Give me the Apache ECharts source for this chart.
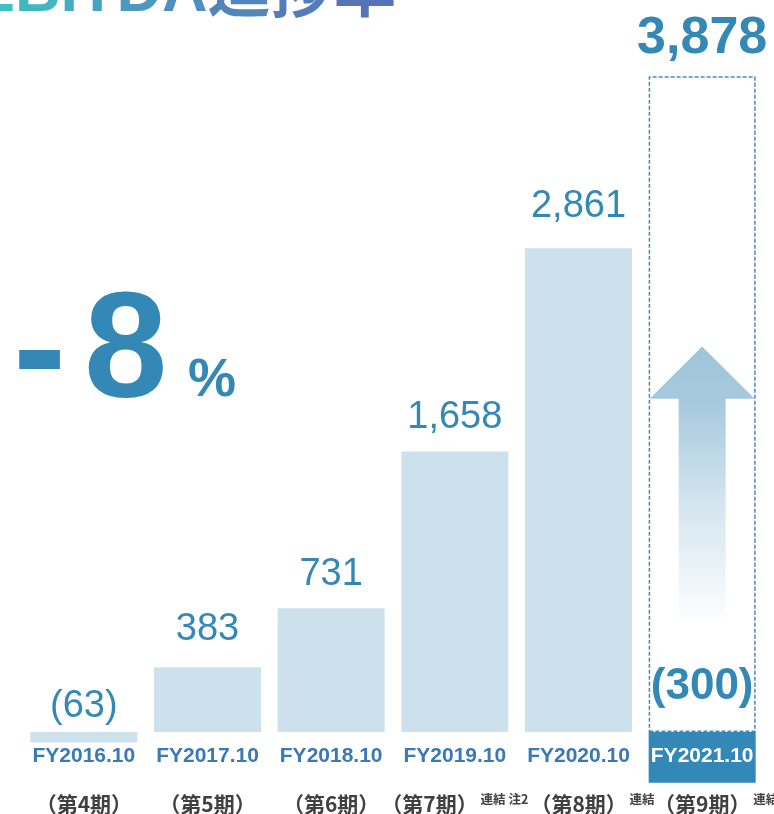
<!DOCTYPE html>
<html>
<head>
<meta charset="utf-8">
<script src="https://cdn.jsdelivr.net/npm/echarts@6/dist/echarts.min.js"></script>
<style>
  html, body { margin: 0; padding: 0; background: #fff; }
  #chart { width: 774px; height: 814px; }
</style>
</head>
<body>
<div id="chart"></div>
<script>
const categories = ["FY2016.10", "FY2017.10", "FY2018.10", "FY2019.10", "FY2020.10", "FY2021.10"];
const periods = ["第4期", "第5期", "第6期", "第7期", "第8期", "第9期"];
const periodNotes = ["", "", "", "連結 注2", "連結", "連結"];
// EBITDA, million yen (negative shown in brackets)
const actual = [-63, 383, 731, 1658, 2861, -300];
const forecast = [null, null, null, null, null, 3878];
// arrow on the forecast column: [category, bottom, neck, tip]
const arrow = [[5, 630, 1970, 2280]];
const title = "EBITDA進捗率";

const periodPad = [0, 0, 0, 0, 26, 30];
const blue = "#3488b6";
const latin = "'Liberation Sans', Arial, 'Noto Sans CJK JP', sans-serif";
const cjk = "'Noto Sans CJK JP', 'Liberation Sans', sans-serif";

const rate = Math.round(actual[5] / forecast[5] * 100);

function fmt(v) {
  const s = String(Math.abs(v)).replace(/\B(?=(\d{3})+(?!\d))/g, ",");
  return v < 0 ? "(" + s + ")" : s;
}

// title drawn one glyph per rich token so it can fade from teal to blue
const titleRich = {};
const titleText = title.split("").map((ch, i, arr) => {
  titleRich["t" + i] = {
    fill: echarts.color.lerp(i / (arr.length - 1), ["#3fc0c4", "#5872b8"]),
    fontFamily: latin,
    fontSize: 63,
    fontWeight: "bold",
  };
  return "{t" + i + "|" + ch + "}";
}).join("");

const chart = echarts.init(document.getElementById("chart"));

const option = {
  animation: false,
  grid: { left: 22, right: 10, top: 55.6, height: 727.1, outerBoundsMode: "none", containLabel: false },
  xAxis: [
    {
      // fiscal-year labels sit just under the zero line, above the negative bar
      type: "category",
      data: categories,
      position: "bottom",
      z: 10,
      axisLine: { show: false, onZero: false },
      axisTick: { show: false },
      axisLabel: {
        interval: 0,
        margin: -37,
        formatter: (v, i) => (i === 5 ? "{w|" + v + "}" : "{b|" + v + "}"),
        rich: {
          b: { fontFamily: latin, fontSize: 21, fontWeight: "bold", color: "#3a78b6" },
          w: { fontFamily: latin, fontSize: 21, fontWeight: "bold", color: "#ffffff" },
        },
      },
    },
    {
      type: "category",
      data: periods,
      position: "bottom",
      axisLine: { show: false, onZero: false },
      axisTick: { show: false },
      axisLabel: {
        interval: 0,
        margin: 10,
        formatter: (v, i) => {
          let s = "";
          if (periodPad[i]) s += "{sp| }";
          s += "{p|（" + v + "）}";
          if (periodNotes[i]) s += "{n| " + periodNotes[i] + "}";
          return s;
        },
        rich: {
          p: { fontFamily: cjk, fontSize: 21, fontWeight: "bold", color: "#404040", lineHeight: 23 },
          n: { fontFamily: cjk, fontSize: 12.5, fontWeight: "bold", color: "#404040", verticalAlign: "top" },
          sp: { width: 28, fontSize: 21 },
        },
      },
    },
  ],
  yAxis: {
    type: "value",
    min: -300,
    max: 4000,
    show: false,
    splitLine: { show: false },
  },
  series: [
    {
      name: "予想",
      type: "bar",
      data: forecast,
      barWidth: 107,
      barGap: "-100%",
      z: 2,
      itemStyle: {
        color: "rgba(255,255,255,0)",
        borderColor: "#4a86c6",
        borderWidth: 1.5,
        borderType: [4, 2],
      },
      label: {
        show: true,
        position: "top",
        distance: 12,
        formatter: (p) => fmt(p.value),
        fontFamily: latin,
        fontSize: 52,
        fontWeight: "bold",
        color: blue,
      },
    },
    {
      name: "矢印",
      type: "custom",
      xAxisIndex: 0,
      z: 3,
      data: arrow,
      renderItem: (params, api) => {
        const c = api.value(0);
        const b = api.coord([c, api.value(1)]);
        const n = api.coord([c, api.value(2)]);
        const t = api.coord([c, api.value(3)]);
        const band = api.size([1, 0])[0];
        const hw = band * 0.425;
        const sw = band * 0.19;
        const cx = b[0];
        return {
          type: "polygon",
          shape: {
            points: [
              [cx - sw, b[1]], [cx - sw, n[1]], [cx - hw, n[1]], [cx, t[1]],
              [cx + hw, n[1]], [cx + sw, n[1]], [cx + sw, b[1]],
            ],
          },
          style: {
            fill: new echarts.graphic.LinearGradient(0, 0, 0, 1, [
              { offset: 0, color: "#9ec4da" },
              { offset: 0.19, color: "#a6c9dd" },
              { offset: 0.55, color: "#d2e4ee" },
              { offset: 1, color: "#ffffff" },
            ]),
          },
        };
      },
    },
    {
      name: "EBITDA",
      type: "bar",
      data: actual.map((v, i) => ({
        value: v,
        itemStyle: { color: i === 5 ? "#3388b7" : "#cde1ec" },
        label:
          i === 5
            ? { fontSize: 44, fontWeight: "bold", distance: 23 }
            : i === 0
            ? { distance: 6 }
            : i === 1
            ? { distance: 19 }
            : i === 4
            ? { distance: 23 }
            : {},
      })),
      barWidth: 107,
      z: 4,
      label: {
        show: true,
        position: "top",
        distance: 15,
        formatter: (p) => fmt(p.value),
        fontFamily: latin,
        fontSize: 38,
        color: blue,
      },
    },
  ],
  graphic: [
    {
      type: "text",
      x: -27,
      y: -6,
      style: {
        text: titleText,
        rich: titleRich,
        align: "left",
        verticalAlign: "middle",
      },
    },
    {
      type: "text",
      x: 13,
      y: 357,
      style: { text: "-", font: "bold 160px " + latin, fill: blue, verticalAlign: "middle" },
    },
    {
      type: "text",
      x: 84,
      y: 356,
      style: { text: String(Math.abs(rate)), font: "bold 150px " + latin, fill: blue, verticalAlign: "middle" },
    },
    {
      type: "text",
      x: 188,
      y: 381,
      style: { text: "%", font: "bold 54px " + latin, fill: blue, verticalAlign: "middle" },
    },
  ],
};

chart.setOption(option);
</script>
</body>
</html>
